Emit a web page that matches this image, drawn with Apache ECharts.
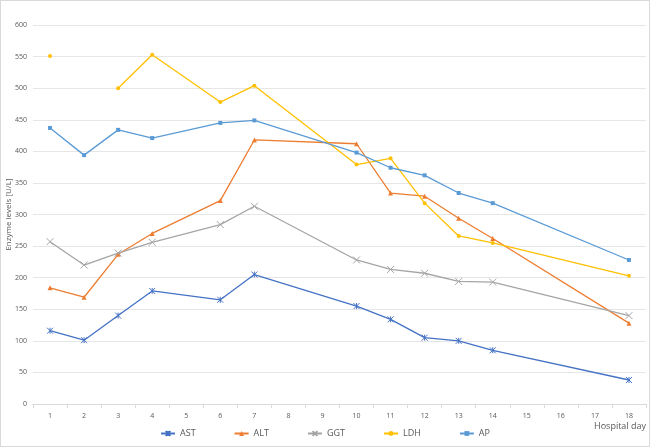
<!DOCTYPE html>
<html>
<head>
<meta charset="utf-8">
<script src="https://cdn.jsdelivr.net/npm/echarts@6/dist/echarts.min.js"></script>
<style>
  html, body { margin: 0; padding: 0; background: #fff; }
  #chart { width: 648px; height: 445px; border: 1px solid #d9d9d9; }
</style>
</head>
<body>
<div id="chart"></div>
<script>
// hospital days on the x axis
const days = ['1','2','3','4','5','6','7','8','9','10','11','12','13','14','15','16','17','18'];

// null = not measured that day (line goes across), 'gap' = line is broken
const astValues = [116, 101, 140, 179, null, 165, 205, null, null, 155, 134, 105, 100, 85, null, null, null, 38];
const altValues = [184, 169, 237, 270, null, 322, 418, null, null, 412, 334, 329, 294, 262, null, null, null, 128];
const ggtValues = [257, 220, 239, 256, null, 284, 313, null, null, 228, 213, 207, 194, 193, null, null, null, 140];
const ldhValues = [551, 'gap', 500, 553, null, 478, 504, null, null, 379, 389, 318, 266, 255, null, null, null, 203];
const apValues  = [437, 394, 434, 421, null, 445, 449, null, null, 398, 374, 362, 334, 318, null, null, null, 228];

const yTicks = [0, 50, 100, 150, 200, 250, 300, 350, 400, 450, 500, 550, 600];

const toPairs = (vals) => {
    let out = [];
    vals.forEach((v, i) => {
        if (v === null) return;
        out.push([days[i], v === 'gap' ? '-' : v]);
    });
    return out;
};

const crossPath = 'path://M0,0L10,10M10,0L0,10';
const starPath = 'path://M0,0L10,10M10,0L0,10M5,0L5,10';

const makeSeries = (name, vals, color, symbol, size) => ({
    name: name,
    type: 'line',
    data: toPairs(vals),
    symbol: symbol,
    symbolSize: size,
    connectNulls: false,
    lineStyle: { color: color, width: 1.3 },
    itemStyle: { color: color, borderColor: color, borderWidth: symbol.startsWith('path') ? 1 : 0 }
});

const myChart = echarts.init(document.getElementById('chart'));
const option = {
    animation: false,
    grid: { left: 32, right: 3, top: 24, bottom: 42, outerBoundsMode: 'none', containLabel: false },
    legend: {
        bottom: 3,
        left: 'center',
        itemGap: 38,
        itemWidth: 14,
        itemHeight: 6,
        textStyle: { color: '#595959', fontSize: 9, fontFamily: 'Open Sans' },
        data: ['AST', 'ALT', 'GGT', 'LDH', 'AP']
    },
    xAxis: {
        type: 'category',
        data: days,
        name: 'Hospital day',
        nameLocation: 'end',
        nameGap: 0,
        nameTextStyle: { color: '#595959', fontSize: 9, fontFamily: 'Open Sans', align: 'right', verticalAlign: 'top', padding: [18, 0, 0, 0] },
        axisLine: { lineStyle: { color: '#d9d9d9' } },
        axisTick: { show: true, alignWithLabel: false, length: 4, lineStyle: { color: '#d9d9d9' } },
        axisLabel: { color: '#595959', fontSize: 7, fontFamily: 'Open Sans', margin: 8 },
        splitLine: { show: false }
    },
    yAxis: {
        type: 'value',
        min: yTicks[0],
        max: yTicks[yTicks.length - 1],
        interval: 50,
        name: 'Enzyme levels [U/L]',
        nameLocation: 'middle',
        nameGap: 20,
        nameMoveOverlap: false,
        nameTextStyle: { color: '#595959', fontSize: 8, fontFamily: 'Open Sans' },
        axisLine: { show: false },
        axisTick: { show: false },
        axisLabel: { color: '#595959', fontSize: 7, fontFamily: 'Open Sans', margin: 6 },
        splitLine: { lineStyle: { color: '#e6e6e6' } }
    },
    series: [
        makeSeries('AST', astValues, '#4472C4', starPath, 6),
        makeSeries('ALT', altValues, '#ED7D31', 'triangle', 5),
        makeSeries('GGT', ggtValues, '#A5A5A5', crossPath, 7),
        makeSeries('LDH', ldhValues, '#FFC000', 'circle', 4),
        makeSeries('AP', apValues, '#5B9BD5', 'rect', 4)
    ]
};
myChart.setOption(option);
</script>
</body>
</html>
